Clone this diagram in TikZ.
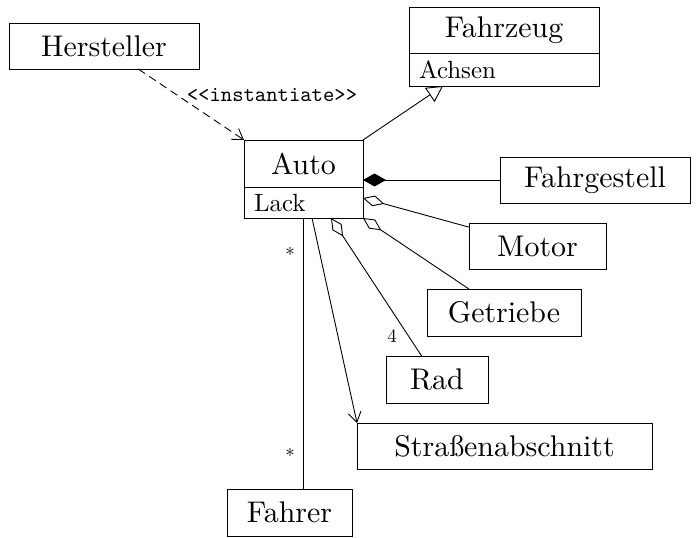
\documentclass[tikz,border=0pt]{standalone}
\usepackage{fontspec}
\setmainfont{lmroman10-regular.otf}
\setmonofont{lmmono10-regular.otf}
\usetikzlibrary{arrows.meta,calc}
\begin{document}
\begin{tikzpicture}[x=1bp,y=-1bp,
  every path/.style={line width=0.9bp},
  box/.style={draw,line width=0.9bp,inner sep=0pt,outer sep=0pt,fill=white,
    font=\fontsize{30}{36}\selectfont},
  attr/.style={draw,line width=0.9bp,inner ysep=0pt,inner xsep=10bp,outer sep=0pt,fill=white,
    align=left,font=\fontsize{25}{30}\selectfont},
  mult/.style={inner sep=0pt,font=\fontsize{19}{22}\selectfont},
  stereo/.style={inner sep=0pt,font=\fontsize{21.7}{26}\selectfont\ttfamily},
  openarrow/.style={-{Straight Barb[length=10bp,width=13bp,line width=0.9bp]}},
  aggr/.style={{Diamond[open,length=22bp,width=11bp,line width=0.9bp]}-},
  comp/.style={-{Diamond[length=23bp,width=13bp]}},
  gen/.style={-{Triangle[open,length=16bp,width=17bp,line width=0.9bp]}}
]
\useasboundingbox (0,0) rectangle (699,538);

% nodes
\node[box,minimum width=190bp,minimum height=46bp] (herst) at (104,46) {Hersteller};
\node[box,minimum width=190bp,minimum height=46bp] (fzN) at (504,30) {Fahrzeug};
\node[attr,minimum height=33bp,text width=170bp] (fzA) at (504,69.5) {Achsen};
\node[box,minimum width=119bp,minimum height=47bp] (autoN) at (303.5,163.5) {Auto};
\node[attr,minimum height=31bp,text width=99bp] (autoA) at (303.5,202.5) {Lack};
\node[box,minimum width=190bp,minimum height=46bp] (fahrg) at (595,180) {Fahrgestell};
\node[box,minimum width=137bp,minimum height=46bp] (motor) at (537.5,246) {Motor};
\node[box,minimum width=154bp,minimum height=47bp] (getr) at (504,312.5) {Getriebe};
\node[box,minimum width=102bp,minimum height=47bp] (rad) at (437,379.5) {Rad};
\node[box,minimum width=295bp,minimum height=46bp] (strasse) at (504.5,446) {Straßenabschnitt};
\node[box,minimum width=125bp,minimum height=47bp] (fahrer) at (289.5,512.5) {Fahrer};

% connectors
\draw[openarrow,dash pattern=on 8bp off 5bp] (herst) -- (autoN.north west);
\node[stereo] (inst) at (272,95) {<<instantiate>>};

\draw[gen] (autoN.north east) -- ($(fzA.south west)+(34,0)$);

\draw[comp] (fahrg.west) -- (fahrg.west -| autoN.east);

\draw[aggr] ($(autoA.east)+(0,-4.5)$) -- (motor);
\draw[aggr] (autoA.south east) -- (getr);
\draw[aggr] ($(autoA.south)+(27.5,0)$) -- (rad);
\node[mult] (four) at (392,336) {4};

\draw[openarrow] ($(autoA.south)+(8.5,0)$) -- (strasse.north west);

\draw (autoA.south) -- (autoA.south |- fahrer.north);
\node[mult] (m1) at (290,254) {*};
\node[mult] (m2) at (290,455) {*};
\end{tikzpicture}
\end{document}
